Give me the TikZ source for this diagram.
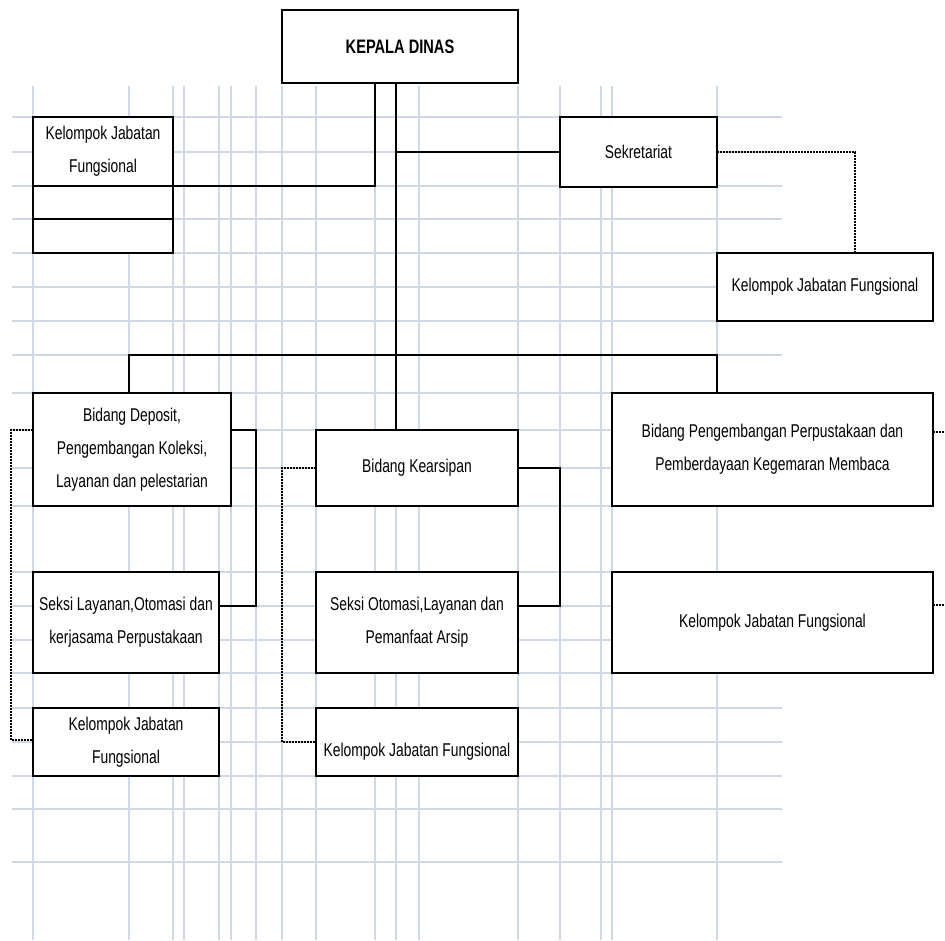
\documentclass[tikz,border=0pt]{standalone}
\usepackage{fontspec}
\setmainfont[FakeStretch=0.75]{Liberation Sans}
\usepackage{tikz}
\usetikzlibrary{positioning}

\definecolor{gridblue}{RGB}{208,215,229}

\begin{document}
\begin{tikzpicture}[
    x=1pt, y=-1pt,
    box/.style={rectangle, draw, line width=2.2pt, fill=white, inner sep=0pt, outer sep=0pt,
        align=center, font=\fontsize{18.5}{33}\selectfont},
    head/.style={box, font=\fontsize{19.5}{22}\selectfont\bfseries},
    line/.style={line width=2.2pt},
    dotline/.style={line width=1.8pt, dash pattern=on 1.6pt off 1.4pt},
    gridline/.style={draw=gridblue, line width=2pt},
]
\useasboundingbox (0,0) rectangle (945,940);

%% GRID
    \foreach \gx in {33,129,173,184,219,231,256,282,316,375,396,419,518,560,601,612,717}
        \draw[gridline] (\gx,86) -- (\gx,940);
    \foreach \gy in {117,152,186,219,253,287,321,355,393,430,468,506,572,606,640,673,708,742,776,809,862}
        \draw[gridline] (12,\gy) -- (782,\gy);

%% NODES
    % head
    \node[head, minimum width=236pt, minimum height=73pt] (kepala) at (400,46.5) {KEPALA DINAS};

    % top row
    \node[box, minimum width=140pt, minimum height=69pt] (kjf_a) at (103,151.5) {Kelompok Jabatan\\Fungsional};
    \node[box, minimum width=140pt, minimum height=33pt, below=0pt of kjf_a] (kjf_a2) {};
    \node[box, minimum width=140pt, minimum height=34pt, below=0pt of kjf_a2] (kjf_a3) {};
    \node[box, minimum width=157pt, minimum height=70pt] (sekr) at (638.5,152) {Sekretariat};
    \node[box, minimum width=216pt, minimum height=68pt] (kjf_b) at (825,287) {Kelompok Jabatan Fungsional};

    % bidang
    \node[box, minimum width=198pt, minimum height=113pt] (deposit) at (132,449.5)
        {Bidang Deposit,\\Pengembangan Koleksi,\\Layanan dan pelestarian};
    \node[box, minimum width=202pt, minimum height=76pt] (arsip) at (417,468) {Bidang Kearsipan};
    \node[box, minimum width=321pt, minimum height=113pt] (perpus) at (772.5,449.5)
        {Bidang Pengembangan Perpustakaan dan\\Pemberdayaan Kegemaran Membaca};

    % seksi
    \node[box, minimum width=186pt, minimum height=101pt] (seksi_a) at (126,622.5)
        {Seksi Layanan,Otomasi dan\\kerjasama Perpustakaan};
    \node[box, minimum width=202pt, minimum height=101pt] (seksi_b) at (417,622.5)
        {Seksi Otomasi,Layanan dan\\Pemanfaat Arsip};
    \node[box, minimum width=321pt, minimum height=101pt] (kjf_e) at (772.5,622.5) {Kelompok Jabatan Fungsional};

    % bottom row
    \node[box, minimum width=186pt, minimum height=68pt] (kjf_c) at (126,742) {Kelompok Jabatan\\Fungsional};
    \node[box, minimum width=202pt, minimum height=68pt] (kjf_d) at (417,742) {\mbox{}\\Kelompok Jabatan Fungsional};

%% LINES
    \coordinate (trunk) at ([xshift=-4pt]kepala.south);
    \coordinate (bus) at (0,355);

    \draw[line] ([xshift=-25pt]kepala.south) |- (kjf_a.south east);
    \draw[line] (trunk) -- (trunk |- arsip.north);
    \draw[line] (trunk |- sekr.west) -- (sekr.west);
    \draw[line] ([xshift=-3pt]deposit.north) |- (bus -| kjf_b.west) -- (perpus.north -| kjf_b.west);
    \draw[line] ([yshift=19.5pt]deposit.east) -- ++(25,0) |- ([yshift=16.5pt]seksi_a.east);
    \draw[line] (arsip.east) -- ++(42,0) |- ([yshift=16.5pt]seksi_b.east);

    % dotted
    \draw[dotline] (sekr.east) -| ([xshift=30pt]kjf_b.north);
    \draw[dotline] ([yshift=19.5pt]deposit.west) -- ++(-22,0) |- ([yshift=2pt]kjf_c.west);
    \draw[dotline] (arsip.west) -- ++(-34,0) |- (kjf_d.west);
    \draw[dotline] ([yshift=17.5pt]perpus.east) -- ++(12,0);
    \draw[dotline] ([yshift=17.5pt]kjf_e.east) -- ++(12,0);

\end{tikzpicture}
\end{document}
